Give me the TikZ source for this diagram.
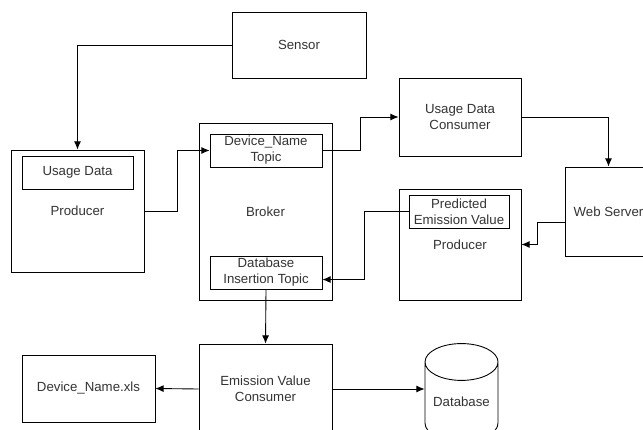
\documentclass[tikz,border=0pt]{standalone}
\usepackage{fontspec}
\setmainfont{Liberation Sans}
\usetikzlibrary{shapes.geometric,arrows.meta}

\begin{document}
\begin{tikzpicture}
        [x=0.03cm,y=-0.03cm,>={Latex[length=7pt,width=6pt]},line width=0.75pt,
         every node/.style={draw,rectangle,align=center,inner sep=0pt,text=black!80,
                            font=\fontsize{11.3}{13.6}\selectfont}]
        \tikzset{BoxSize/.style 2 args = {minimum width=#1*0.03cm,
                                          minimum height=#2*0.03cm}}
        \useasboundingbox (0,0) rectangle (643,430);
        \node[BoxSize={134}{66}] (Sensor) at (299,45) {Sensor};
        \node[BoxSize={133}{122}] (Producer) at (77.5,211) {Producer};
        \node[BoxSize={111}{33}] (UsageData) at (77.5,172.5) {Usage Data};
        \node[BoxSize={133}{177}] (Broker) at (265.5,211.5) {Broker};
        \node[BoxSize={112}{33}] (DeviceTopic) at (266,150.5) {Device\_Name\\Topic};
        \node[BoxSize={112}{33}] (InsertTopic) at (266,272.5) {Database\\Insertion Topic};
        \node[BoxSize={122}{78}] (UsageConsumer) at (460,117) {Usage Data\\Consumer};
        \node[BoxSize={87}{89}] (WebServer) at (608.5,211.5) {Web Server};
        \node[BoxSize={122}{111}] (EmissionProducer) at (460,244.5) {Producer};
        \node[BoxSize={100}{33}] (Predicted) at (459,211.5) {Predicted\\Emission Value};
        \node[BoxSize={133}{90}] (EmissionConsumer) at (265.5,389) {Emission Value\\Consumer};
        \node[BoxSize={133}{67}] (Excel) at (88.5,388.5) {Device\_Name.xls};
        \node[cylinder,shape border rotate=90,aspect=0.65,BoxSize={73}{98}] (Database) at (461.5,402) {Database};
        % elbow connectors
        \draw[->] (Sensor.west) -| (Producer.north);
        \draw[->] (Producer.east) -- ++(33,0) |- (DeviceTopic.west);
        \draw[->] (DeviceTopic.east) -- ++(38,0) |- (UsageConsumer.west);
        \draw[->] (UsageConsumer.east) -| (WebServer.north);
        \draw[->] ([yshift=-9pt]WebServer.west) -- ++(-27,0) |- (EmissionProducer.east);
        \draw[->] (Predicted.west) -- ++(-44,0) |- ([yshift=-6pt]InsertTopic.east);
        % straight connectors
        \foreach \from/\to in {InsertTopic/EmissionConsumer}
            \draw[->] (\from.south) -- (\to.north);
        \foreach \from/\to in {EmissionConsumer/Excel}
            \draw[->] (\from.west) -- (\to.east);
        \foreach \from/\to in {EmissionConsumer/Database}
            \draw[->] (\from.east) -- (\from.east -| \to.west);
\end{tikzpicture}
\end{document}
